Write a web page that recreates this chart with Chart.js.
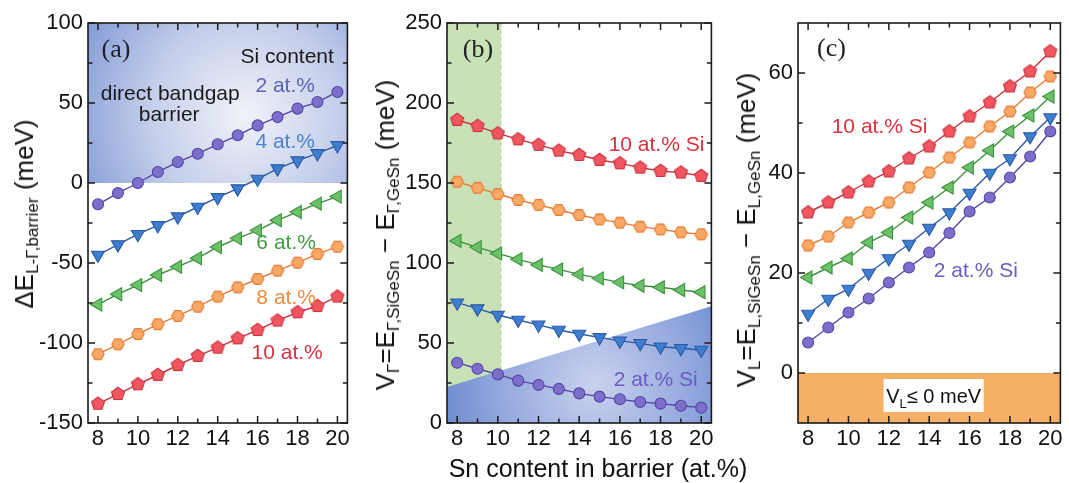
<!DOCTYPE html>
<html><head><meta charset="utf-8">
<script src="https://cdn.jsdelivr.net/npm/chart.js@4.4.1/dist/chart.umd.min.js"></script>
<style>
html,body{margin:0;padding:0;background:#fff;}
body{width:1069px;height:483px;position:relative;overflow:hidden;font-family:"Liberation Sans",Arial,sans-serif;}
canvas{position:absolute;top:0;}
.yt{position:absolute;white-space:nowrap;font-size:26px;transform:translate(-50%,-50%) rotate(-90deg);color:#111;line-height:1;}
.yt sub{font-size:17px;vertical-align:-5px;}
.xt{position:absolute;white-space:nowrap;font-size:25px;transform:translate(-50%,-50%);color:#111;line-height:1;}
</style></head><body>
<canvas id="ca" width="356" height="483" style="left:0px"></canvas>
<canvas id="cb" width="360" height="483" style="left:360px"></canvas>
<canvas id="cc" width="349" height="483" style="left:720px"></canvas>
<div class="yt" style="left:26px;top:214px">ΔE<sub>L-Γ,barrier</sub> (meV)</div>
<div class="yt" style="left:387px;top:235px">V<sub>Γ</sub>=E<sub>Γ,SiGeSn</sub> − E<sub>Γ,GeSn</sub> (meV)</div>
<div class="yt" style="left:748px;top:230px">V<sub>L</sub>=E<sub>L,SiGeSn</sub> − E<sub>L,GeSn</sub> (meV)</div>
<div class="xt" style="left:598px;top:468px">Sn content in barrier (at.%)</div>
<script>
// ---------- data ----------
const snContent = [8,9,10,11,12,13,14,15,16,17,18,19,20];
const xTicks = [8,10,12,14,16,18,20];
const xMinor = [9,11,13,15,17,19];

// (a) ΔE L-Γ barrier (meV)
const dE_si2  = [-13.3,-6.3,0,6.9,13.1,18.3,24.2,29.8,36,41.2,46.5,50.6,56.9];
const dE_si4  = [-45,-38.5,-32,-26.5,-21,-15,-9,-3.5,2.5,9,14,18.5,23.5];
const dE_si6  = [-76,-69.5,-63.8,-57.5,-52.3,-47,-40,-34.6,-29.6,-23.3,-18.1,-12.9,-8.5];
const dE_si8  = [-107,-100.8,-94.4,-88.3,-83.1,-77.3,-71,-65.2,-60,-54.8,-49.8,-44.4,-39.8];
const dE_si10 = [-138,-131.9,-125.8,-120,-113.8,-108.1,-102.9,-97.1,-91.9,-86,-80.8,-76.9,-71];
const aTicks = [-150,-100,-50,0,50,100];
const aMinor = [-125,-75,-25,25,75];

// (b) V_Γ (meV)
const vG_si2  = [37.7,33.9,30.4,26.5,23.8,21.3,18.5,16.5,14.8,13.1,12.1,10.8,9.6];
const vG_si4  = [75.2,71.5,67.5,64.4,61.3,58.1,55.6,53.5,51.3,49.8,47.7,46.7,45.6];
const vG_si6  = [113.8,109.8,106,102.3,98.8,96,92.9,90.4,87.9,85.8,84.8,83.1,81.7];
const vG_si8  = [150.8,147,143.1,139.4,136.3,133.1,130,127.3,125.2,122.7,121,119.2,117.9];
const vG_si10 = [189.4,185.6,181,177.3,173.8,170.2,167.5,164.4,162.3,159.6,157.5,156.5,154.4];
const bTicks = [0,50,100,150,200,250];
const bMinor = [25,75,125,175,225];

// (c) V_L (meV)
const vL_si2  = [6.1,9.1,12.1,14.9,18.1,21.1,24.1,28,32.3,35.1,39.1,43.3,48.3];
const vL_si4  = [11.8,14.8,16.8,20,22.9,25.8,29,32.1,36,40,42.9,47.3,51.1];
const vL_si6  = [19.1,21.1,22.9,26.1,28.1,31.1,34.1,37.1,41.1,44.5,48.3,51.5,55.3];
const vL_si8  = [25.5,27.3,30.1,32.1,34.1,37.1,40.1,43.1,46.1,49.3,52.3,56.1,59.3];
const vL_si10 = [32.1,34.1,36.1,38.3,40.3,42.9,45.3,48.3,51.3,54.1,57.3,60.3,64.3];
const cTicks = [0,20,40,60];
const cMinor = [10,30,50];

// ---------- styles ----------
const FONT = "Liberation Sans";
function polyMarker(n, r, fill, stroke, rot){
  let s = Math.ceil(2*r+4); if (s%2) s++;
  const c = document.createElement('canvas'); c.width=s; c.height=s;
  const g = c.getContext('2d');
  g.beginPath();
  for(let i=0;i<n;i++){const a=rot+i*2*Math.PI/n; const px=s/2+r*Math.cos(a), py=s/2+r*Math.sin(a); if(i) g.lineTo(px,py); else g.moveTo(px,py);}
  g.closePath(); g.fillStyle=fill; g.fill(); g.lineWidth=1.1; g.strokeStyle=stroke; g.stroke();
  return c;
}
const ST = {
  si2:  {fill:'#7c6fcb', stroke:'#5545a6', style:'circle', rot:0, r:5.5},
  si4:  {fill:'#3f7dd0', stroke:'#2a5aa6', style:'triangle', rot:180, r:7.5},
  si6:  {fill:'#6cc06a', stroke:'#3a923c', style:'triangle', rot:-90, r:7.5},
  si8:  {fill:'#f9a965', stroke:'#e57b35', style:polyMarker(6,6.2,'#f9a965','#e57b35',0), rot:0, r:6.5},
  si10: {fill:'#f0565f', stroke:'#c8303b', style:polyMarker(5,6.8,'#f0565f','#c8303b',-Math.PI/2), rot:0, r:7}
};

function datasets(arrs){
  return Object.keys(arrs).map(k=>{
    const s = ST[k];
    return {
      data: snContent.map((x,i)=>({x:x,y:arrs[k][i]})),
      borderColor: s.stroke, backgroundColor: s.fill,
      pointBackgroundColor: s.fill, pointBorderColor: s.stroke,
      pointStyle: s.style, pointRotation: s.rot, pointRadius: s.r,
      borderWidth: 1.4, pointBorderWidth: 1.1, tension: 0
    };
  });
}

function framePlugin(yMajor, yMinor){
  return {
    id:'frame',
    afterDraw(chart){
      const ctx = chart.ctx, a = chart.chartArea, x = chart.scales.x, y = chart.scales.y;
      ctx.save();
      ctx.strokeStyle='#1a1a1a'; ctx.lineWidth=1.6;
      ctx.strokeRect(a.left, a.top, a.right-a.left, a.bottom-a.top);
      ctx.lineWidth=1.5;
      const tk=(px,len,vert)=>{
        ctx.beginPath();
        if(vert){ ctx.moveTo(px,a.bottom); ctx.lineTo(px,a.bottom-len); ctx.moveTo(px,a.top); ctx.lineTo(px,a.top+len); }
        else { ctx.moveTo(a.left,px); ctx.lineTo(a.left+len,px); ctx.moveTo(a.right,px); ctx.lineTo(a.right-len,px); }
        ctx.stroke();
      };
      xTicks.forEach(v=>tk(x.getPixelForValue(v),7,true));
      xMinor.forEach(v=>tk(x.getPixelForValue(v),4.5,true));
      yMajor.forEach(v=>tk(y.getPixelForValue(v),7,false));
      yMinor.forEach(v=>tk(y.getPixelForValue(v),4.5,false));
      ctx.restore();
    }
  };
}

function bgPlugin(bg){
  return {
    id:'bg',
    beforeDatasetsDraw(chart){
      const ctx = chart.ctx, a = chart.chartArea;
      ctx.save();
      ctx.beginPath(); ctx.rect(a.left,a.top,a.right-a.left,a.bottom-a.top); ctx.clip();
      bg.draw(ctx, chart);
      ctx.restore();
    },
    afterDatasetsDraw(chart){
      const ctx = chart.ctx, x = chart.scales.x, y = chart.scales.y;
      ctx.save();
      (bg.labels||[]).forEach(L=>{
        ctx.font = L.font || ('21px "'+FONT+'"');
        ctx.fillStyle = L.color || '#111';
        ctx.textAlign='center'; ctx.textBaseline='middle';
        ctx.fillText(L.text, x.getPixelForValue(L.x), y.getPixelForValue(L.y));
      });
      if (bg.after) bg.after(ctx, chart);
      ctx.restore();
    }
  };
}

function makeChart(id, arrs, yMin, yMax, yMajor, yMinor, yWidth, padRight, bg){
  return new Chart(document.getElementById(id), {
    type:'line',
    data:{datasets: datasets(arrs)},
    options:{
      responsive:false, animation:false, events:[],
      layout:{padding:{top:23, right:padRight, left:0, bottom:0}},
      plugins:{legend:{display:false}, tooltip:{enabled:false}},
      scales:{
        x:{type:'linear', min:7.5, max:20.5,
          afterBuildTicks:s=>{s.ticks = xTicks.map(v=>({value:v}));},
          afterFit:s=>{s.height = 60;},
          grid:{display:false, drawTicks:false}, border:{display:false},
          ticks:{color:'#111', font:{family:FONT, size:22}, padding:3, maxRotation:0, autoSkip:false}},
        y:{type:'linear', min:yMin, max:yMax,
          afterBuildTicks:s=>{s.ticks = yMajor.map(v=>({value:v}));},
          afterFit:s=>{s.width = yWidth;},
          grid:{display:false, drawTicks:false}, border:{display:false},
          ticks:{color:'#111', font:{family:FONT, size:22}, padding:5, autoSkip:false}}
      }
    },
    plugins:[bgPlugin(bg), framePlugin(yMajor, yMinor)]
  });
}

// (a)
makeChart('ca', {si2:dE_si2, si4:dE_si4, si6:dE_si6, si8:dE_si8, si10:dE_si10}, -150, 100, aTicks, aMinor, 88, 6, {
  draw(ctx, chart){
    const y = chart.scales.y, a = chart.chartArea;
    const y0 = y.getPixelForValue(0), y1 = y.getPixelForValue(100);
    const g = ctx.createRadialGradient(245,115,5,245,115,210);
    g.addColorStop(0,'#eef1f8'); g.addColorStop(0.45,'#c3cdea'); g.addColorStop(1,'#6e8bd0');
    ctx.fillStyle = g; ctx.fillRect(a.left, y1, a.right-a.left, y0-y1);
  },
  labels:[
    {text:'(a)', x:8.9, y:83, font:'26px "Liberation Serif"', color:'#222'},
    {text:'Si content', x:17.48, y:78.5, color:'#1a1a1a'},
    {text:'direct bandgap', x:11.62, y:55.6, color:'#1a1a1a'},
    {text:'barrier', x:11.57, y:42.5, color:'#1a1a1a'},
    {text:'2 at.%', x:17.38, y:60.6, color:'#5d64b4'},
    {text:'4 at.%', x:17.38, y:25.6, color:'#4a82d0'},
    {text:'6 at.%', x:17.43, y:-37.5, color:'#3f9c43'},
    {text:'8 at.%', x:17.43, y:-71.9, color:'#f08a3e'},
    {text:'10 at.%', x:17.48, y:-106.3, color:'#d8323f'}
  ]
});

// (b)
makeChart('cb', {si2:vG_si2, si4:vG_si4, si6:vG_si6, si8:vG_si8, si10:vG_si10}, 0, 250, bTicks, bMinor, 87, 8, {
  draw(ctx, chart){
    const x = chart.scales.x, y = chart.scales.y, a = chart.chartArea;
    const xg = x.getPixelForValue(10.15);
    ctx.fillStyle = '#c9e1b6'; ctx.fillRect(a.left, a.top, xg-a.left, a.bottom-a.top);
    ctx.strokeStyle='#acce95'; ctx.lineWidth=1; ctx.setLineDash([4,3]);
    ctx.beginPath(); ctx.moveTo(xg,a.top); ctx.lineTo(xg,a.bottom); ctx.stroke(); ctx.setLineDash([]);
    const g = ctx.createRadialGradient(235,385,5,235,385,170);
    g.addColorStop(0,'#c8d0ed'); g.addColorStop(0.55,'#93a8de'); g.addColorStop(1,'#6384cc');
    ctx.fillStyle = g;
    ctx.beginPath();
    ctx.moveTo(x.getPixelForValue(7.5), y.getPixelForValue(0));
    ctx.lineTo(x.getPixelForValue(7.5), y.getPixelForValue(22.5));
    ctx.lineTo(x.getPixelForValue(20.5), y.getPixelForValue(73));
    ctx.lineTo(x.getPixelForValue(20.5), y.getPixelForValue(0));
    ctx.closePath(); ctx.fill();
  },
  labels:[
    {text:'(b)', x:9.02, y:233, font:'26px "Liberation Serif"', color:'#222'},
    {text:'10 at.% Si', x:17.8, y:173.8, color:'#d8323f'},
    {text:'2 at.% Si', x:17.76, y:26.9, color:'#6a5cc0'}
  ]
});

// (c)
makeChart('cc', {si2:vL_si2, si4:vL_si4, si6:vL_si6, si8:vL_si8, si10:vL_si10}, -10, 70, cTicks, cMinor, 78, 4, {
  draw(ctx, chart){
    const y = chart.scales.y, a = chart.chartArea;
    const y0 = y.getPixelForValue(0);
    ctx.fillStyle = '#f6b066'; ctx.fillRect(a.left, y0, a.right-a.left, a.bottom-y0);
  },
  labels:[
    {text:'(c)', x:9.16, y:64.8, font:'26px "Liberation Serif"', color:'#222'},
    {text:'10 at.% Si', x:11.54, y:49.2, color:'#d8323f'},
    {text:'2 at.% Si', x:16.31, y:20.4, color:'#6a5cc0'}
  ],
  after(ctx, chart){
    const x = chart.scales.x, y = chart.scales.y;
    const x0 = x.getPixelForValue(11.74), x1 = x.getPixelForValue(16.7);
    const y0 = y.getPixelForValue(-1.2), y1 = y.getPixelForValue(-7.8);
    ctx.fillStyle='#ffffff'; ctx.fillRect(x0, y0, x1-x0, y1-y0);
    const cx = (x0+x1)/2, cy = (y0+y1)/2;
    ctx.fillStyle='#111'; ctx.textBaseline='alphabetic'; ctx.textAlign='left';
    const big = '20px "'+FONT+'"', small = '13px "'+FONT+'"';
    ctx.font = big; const wV = ctx.measureText('V').width;
    const wRest = ctx.measureText('≤ 0 meV').width;
    ctx.font = small; const wL = ctx.measureText('L').width;
    let sx = cx - (wV + wL + wRest)/2; const by = cy + 7;
    ctx.font = big; ctx.fillText('V', sx, by); sx += wV;
    ctx.font = small; ctx.fillText('L', sx, by+5); sx += wL;
    ctx.font = big; ctx.fillText('≤ 0 meV', sx, by);
  }
});
</script>
</body></html>
